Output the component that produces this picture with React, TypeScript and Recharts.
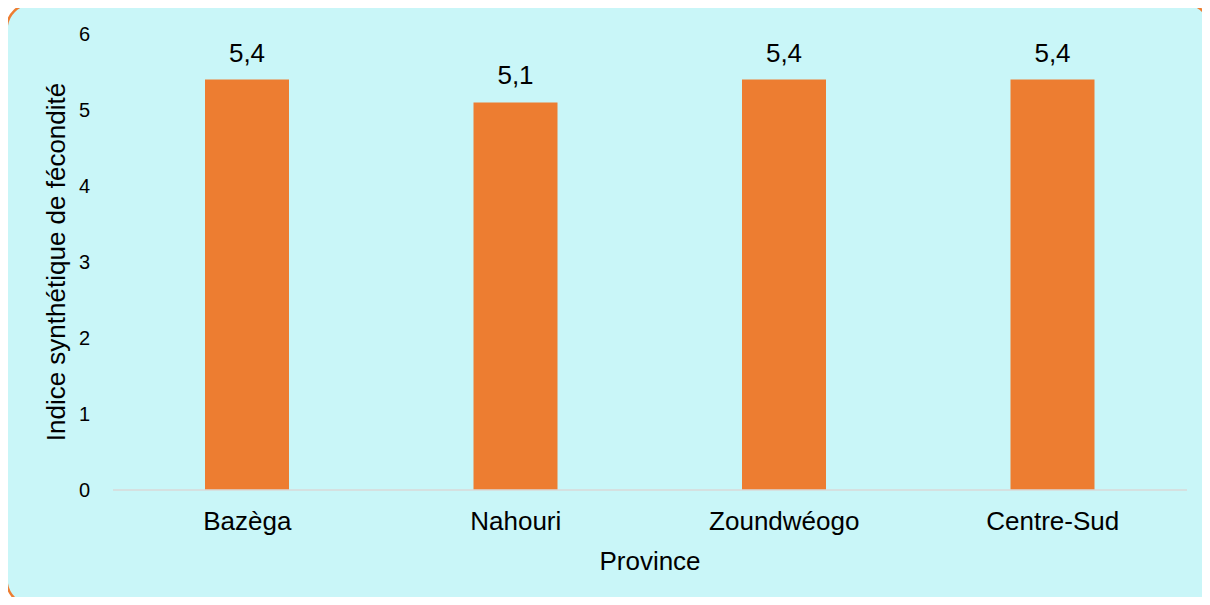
import { BarChart, Bar, XAxis, YAxis, LabelList } from "recharts";

const provinces = ["Bazèga", "Nahouri", "Zoundwéogo", "Centre-Sud"];
const isfValues = [5.4, 5.1, 5.4, 5.4];
const yTicks = [0, 1, 2, 3, 4, 5, 6];

const data = provinces.map((province, i) => ({ province, isf: isfValues[i] }));

const FONT = "'Liberation Sans', Arial, sans-serif";
const ORANGE = "#ED7D31";

const formatComma = (v: number | string) => String(v).replace(".", ",");

const App = () => {
  return (
    <div
      style={{
        position: "relative",
        width: 1210,
        height: 605,
        margin: -8,
        overflow: "hidden",
        fontFamily: FONT,
      }}
    >
      {/* rounded frame behind the chart */}
      <svg
        width={1210}
        height={605}
        style={{ position: "absolute", left: 0, top: 0 }}
      >
        <rect
          x={6.5}
          y={3.5}
          width={1204}
          height={602}
          rx={26}
          ry={26}
          fill="#C9F6F8"
          stroke={ORANGE}
          strokeWidth={2.5}
        />
      </svg>
      <div style={{ position: "absolute", left: 0, top: 0 }}>
        <BarChart
          width={1210}
          height={605}
          data={data}
          margin={{ top: 34, right: 23, left: 0, bottom: 35 }}
        >
          <XAxis
            dataKey="province"
            height={80}
            axisLine={{ stroke: "#D9D9D9", strokeWidth: 1.5 }}
            tickLine={false}
            tickMargin={16}
            tick={{ fill: "#000", fontSize: 26, fontFamily: FONT }}
            label={{
              value: "Province",
              position: "insideBottom",
              offset: 0,
              fill: "#000",
              fontSize: 26,
              fontFamily: FONT,
            }}
          />
          <YAxis
            width={113}
            domain={[0, 6]}
            ticks={yTicks}
            axisLine={false}
            tickLine={false}
            tickMargin={17}
            tick={{ fill: "#000", fontSize: 20, fontFamily: FONT }}
            label={{
              value: "Indice synthétique de fécondité",
              angle: -90,
              position: "insideLeft",
              offset: 56,
              textAnchor: "middle",
              fill: "#000",
              fontSize: 26,
              fontFamily: FONT,
            }}
          />
          <Bar dataKey="isf" fill={ORANGE} barSize={84} isAnimationActive={false}>
            <LabelList
              dataKey="isf"
              position="top"
              offset={18}
              formatter={formatComma}
              fill="#000"
              fontSize={26}
              fontFamily={FONT}
            />
          </Bar>
        </BarChart>
      </div>
    </div>
  );
};

export default App;
